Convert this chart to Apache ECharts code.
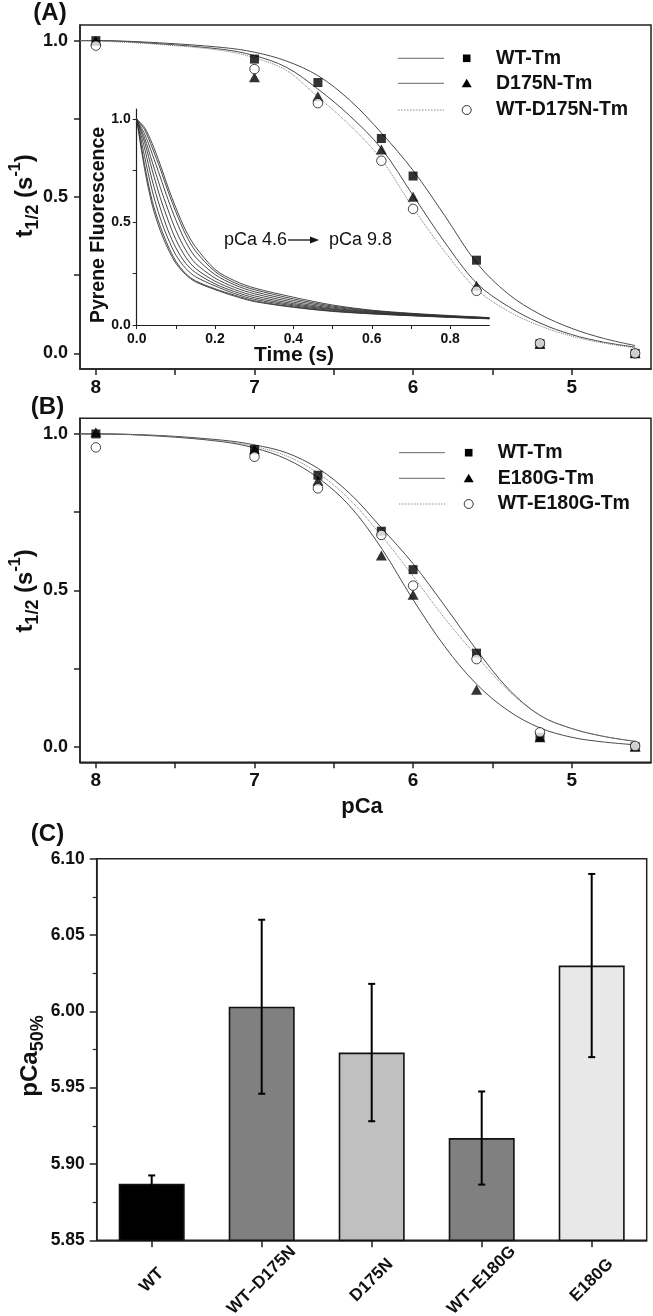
<!DOCTYPE html>
<html>
<head>
<meta charset="utf-8">
<script src="https://cdn.jsdelivr.net/npm/echarts@6/dist/echarts.min.js"></script>
<style>
html,body{margin:0;padding:0;background:#fff;}
#chart{width:653px;height:1316px;}
</style>
</head>
<body>
<div id="chart"></div>
<script>
// ---------- DATA ----------
// Panels A/B: measured points
const pCa = [8, 7, 6.6, 6.2, 6.0, 5.6, 5.2, 4.6];
const wtA = [1.0, 0.941, 0.866, 0.687, 0.567, 0.298, 0.031, 0.0];
const d175nA = [1.0, 0.883, 0.822, 0.652, 0.501, 0.216, 0.03, 0.0];
const wtd175nA = [0.984, 0.909, 0.80, 0.616, 0.462, 0.20, 0.032, 0.0];
const wtB = [1.0, 0.95, 0.868, 0.689, 0.566, 0.299, 0.03, 0.0];
const e180gB = [1.005, 0.951, 0.85, 0.611, 0.486, 0.182, 0.03, 0.0];
const wte180gB = [0.957, 0.927, 0.826, 0.677, 0.515, 0.28, 0.046, 0.002];

// Fitted curves
const fitPCa = [8.1, 8, 7.6, 7.2, 7, 6.8, 6.6, 6.4, 6.2, 6.0, 5.8, 5.6, 5.4, 5.2, 5.0, 4.8, 4.6];
const fitWtA = [1.0, 1.0, 0.993, 0.978, 0.963, 0.935, 0.888, 0.81, 0.705, 0.585, 0.44, 0.29, 0.19, 0.125, 0.08, 0.048, 0.025];
const fitD175nA = [1.0, 1.0, 0.99, 0.972, 0.952, 0.915, 0.845, 0.76, 0.655, 0.505, 0.355, 0.225, 0.15, 0.097, 0.06, 0.036, 0.02];
const fitWtD175nA = [1.0, 0.999, 0.988, 0.968, 0.945, 0.905, 0.82, 0.73, 0.62, 0.465, 0.325, 0.205, 0.135, 0.088, 0.055, 0.033, 0.018];
const fitWtB = [1.0, 1.0, 0.995, 0.98, 0.965, 0.94, 0.89, 0.81, 0.70, 0.585, 0.45, 0.31, 0.185, 0.1, 0.058, 0.033, 0.017];
const fitE180gB = [1.0, 1.0, 0.993, 0.975, 0.955, 0.92, 0.86, 0.77, 0.635, 0.47, 0.32, 0.2, 0.115, 0.06, 0.03, 0.015, 0.006];
const fitWtE180gB = [1.0, 1.0, 0.994, 0.977, 0.96, 0.93, 0.875, 0.79, 0.675, 0.545, 0.41, 0.29, 0.18, 0.1, 0.058, 0.033, 0.017];

// Inset: pyrene fluorescence transients (pCa 4.6 -> 9.8)
const insetT = [0, 0.02, 0.04, 0.06, 0.08, 0.1, 0.125, 0.15, 0.2, 0.25, 0.3, 0.4, 0.5, 0.6, 0.7, 0.8, 0.9];
const tr1 = [1, 0.76, 0.58, 0.46, 0.37, 0.30, 0.245, 0.21, 0.172, 0.14, 0.114, 0.086, 0.066, 0.054, 0.045, 0.037, 0.03];
const tr2 = [1, 0.78, 0.60, 0.48, 0.385, 0.31, 0.25, 0.215, 0.176, 0.145, 0.118, 0.088, 0.068, 0.055, 0.046, 0.038, 0.031];
const tr3 = [1, 0.82, 0.65, 0.52, 0.42, 0.34, 0.275, 0.235, 0.19, 0.153, 0.125, 0.093, 0.071, 0.057, 0.047, 0.039, 0.031];
const tr4 = [1, 0.86, 0.70, 0.57, 0.46, 0.375, 0.30, 0.255, 0.2, 0.162, 0.133, 0.098, 0.075, 0.059, 0.049, 0.04, 0.032];
const tr5 = [1, 0.89, 0.75, 0.62, 0.51, 0.415, 0.33, 0.275, 0.213, 0.172, 0.142, 0.104, 0.078, 0.062, 0.05, 0.041, 0.033];
const tr6 = [1, 0.91, 0.79, 0.67, 0.56, 0.46, 0.365, 0.30, 0.228, 0.183, 0.152, 0.111, 0.082, 0.064, 0.052, 0.042, 0.034];
const tr7 = [1, 0.93, 0.83, 0.72, 0.61, 0.51, 0.405, 0.33, 0.245, 0.195, 0.162, 0.119, 0.087, 0.067, 0.054, 0.043, 0.035];
const tr8 = [1, 0.95, 0.86, 0.76, 0.65, 0.55, 0.44, 0.36, 0.26, 0.205, 0.172, 0.127, 0.092, 0.07, 0.055, 0.044, 0.035];
const tr9 = [1, 0.96, 0.88, 0.78, 0.67, 0.57, 0.46, 0.38, 0.27, 0.215, 0.18, 0.135, 0.097, 0.072, 0.057, 0.046, 0.036];
const transients = [tr1, tr2, tr3, tr4, tr5, tr6, tr7, tr8, tr9];

// Panel C
const cats = ['WT', 'WT\u2013D175N', 'D175N', 'WT\u2013E180G', 'E180G'];
const means = [5.887, 6.003, 5.973, 5.917, 6.030];
const errs = [0.0055, 0.057, 0.045, 0.0305, 0.06];
const barColors = ['#000000', '#808080', '#c0c0c0', '#808080', '#e8e8e8'];

// Tick values
const pCaTicks = [8, 7.5, 7, 6.5, 6, 5.5, 5];
const pCaLabels = [8, 7, 6, 5];
const tTicks = [0, 0.25, 0.5, 0.75, 1];
const tLabels = [0, 0.5, 1];
const insetXTicks = [0, 0.1, 0.2, 0.3, 0.4, 0.5, 0.6, 0.7, 0.8];
const insetXLabels = [0, 0.2, 0.4, 0.6, 0.8];

// ---------- STYLE ----------
const FONT = 'Liberation Sans, Arial, Helvetica, sans-serif';
const AX = '#222';
const TXT = '#111';

function pairs(xs, ys) { return xs.map((x, i) => [x, ys[i]]); }

function pcaXAxis(grid) {
  return {
    gridIndex: grid, type: 'value', min: 4.5, max: 8.1, inverse: true,
    axisLine: { show: true, onZero: false, lineStyle: { color: AX, width: 1.5 } },
    axisTick: { show: true, inside: false, length: 6, customValues: pCaTicks, lineStyle: { color: AX, width: 1.5 } },
    axisLabel: { customValues: pCaLabels, fontSize: 19, fontWeight: 'bold', fontFamily: FONT, color: TXT, margin: 9 },
    splitLine: { show: false }
  };
}
function tYAxis(grid) {
  return {
    gridIndex: grid, type: 'value', min: -0.05, max: 1.05,
    axisLine: { show: true, onZero: false, lineStyle: { color: AX, width: 1.5 } },
    axisTick: { show: true, inside: false, length: 6, customValues: tTicks, lineStyle: { color: AX, width: 1.5 } },
    axisLabel: { customValues: tLabels, formatter: v => v.toFixed(1), fontSize: 18, fontWeight: 'bold', fontFamily: FONT, color: TXT, margin: 12 },
    splitLine: { show: false }
  };
}

function curve(name, xi, xs, ys, dotted) {
  return {
    name, type: 'line', xAxisIndex: xi, yAxisIndex: xi, data: pairs(xs, ys), smooth: 0.35,
    showSymbol: false, symbol: 'none', silent: true, z: 2,
    lineStyle: dotted ? { color: '#7a7a7a', width: 1, type: 'dotted' } : { color: '#4a4a4a', width: 1 }
  };
}
function pts(name, xi, ys, kind) {
  const base = { name, type: 'scatter', xAxisIndex: xi, yAxisIndex: xi, data: pairs(pCa, ys), silent: true };
  if (kind === 'sq') return Object.assign(base, { symbol: 'rect', symbolSize: 9, itemStyle: { color: '#000' }, z: 3 });
  if (kind === 'tri') return Object.assign(base, { symbol: 'triangle', symbolSize: [11, 10], itemStyle: { color: '#000' }, z: 4 });
  return Object.assign(base, { symbol: 'circle', symbolSize: 9.5, itemStyle: { color: '#fff', borderColor: '#000', borderWidth: 0.9 }, z: 5 });
}

const series = [];
// inset transients
transients.forEach((tr, k) => {
  series.push({
    type: 'line', xAxisIndex: 1, yAxisIndex: 1, data: pairs(insetT, tr), smooth: 0.3,
    showSymbol: false, symbol: 'none', silent: true, z: 1,
    lineStyle: { color: '#333', width: 0.9 }
  });
});
// Panel A
series.push(curve('fit WT-Tm A', 0, fitPCa, fitWtA, false));
series.push(curve('fit D175N-Tm A', 0, fitPCa, fitD175nA, false));
series.push(curve('fit WT-D175N-Tm A', 0, fitPCa, fitWtD175nA, true));
series.push(pts('WT-Tm', 0, wtA, 'sq'));
series.push(pts('D175N-Tm', 0, d175nA, 'tri'));
series.push(pts('WT-D175N-Tm', 0, wtd175nA, 'circ'));
// Panel B
series.push(curve('fit WT-Tm B', 2, fitPCa, fitWtB, false));
series.push(curve('fit E180G-Tm B', 2, fitPCa, fitE180gB, false));
series.push(curve('fit WT-E180G-Tm B', 2, fitPCa, fitWtE180gB, true));
series.push(pts('WT-Tm B', 2, wtB, 'sq'));
series.push(pts('E180G-Tm', 2, e180gB, 'tri'));
series.push(pts('WT-E180G-Tm', 2, wte180gB, 'circ'));
// Panel C bars
series.push({
  type: 'bar', xAxisIndex: 3, yAxisIndex: 3, barWidth: 66, silent: true, z: 2,
  data: means.map((m, i) => ({ value: m, itemStyle: { color: barColors[i], borderColor: '#111', borderWidth: 1.6 } }))
});
series.push({
  type: 'custom', xAxisIndex: 3, yAxisIndex: 3, silent: true, z: 5, clip: false,
  encode: { x: 0, y: [1, 2] },
  data: means.map((m, i) => [i, m - errs[i], m + errs[i]]),
  renderItem: function (params, api) {
    const x = api.value(0);
    const lo = api.coord([x, api.value(1)]);
    const hi = api.coord([x, api.value(2)]);
    const hw = 3.5;
    const st = { stroke: '#000', lineWidth: 2 };
    return {
      type: 'group', children: [
        { type: 'line', shape: { x1: lo[0], y1: lo[1], x2: hi[0], y2: hi[1] }, style: st },
        { type: 'line', shape: { x1: hi[0] - hw, y1: hi[1], x2: hi[0] + hw, y2: hi[1] }, style: st },
        { type: 'line', shape: { x1: lo[0] - hw, y1: lo[1], x2: lo[0] + hw, y2: lo[1] }, style: st }
      ]
    };
  }
});

// ---------- GRAPHIC (titles, legends, annotations) ----------
const g = [];
function txt(x, y, text, size, opts) {
  opts = opts || {};
  g.push({
    type: 'text', x, y, rotation: opts.rot || 0, z: 50,
    style: Object.assign({ text, fill: TXT, font: (opts.weight || 'bold') + ' ' + size + 'px ' + FONT,
      align: opts.align || 'center', verticalAlign: 'middle' }, opts.style || {})
  });
}
txt(50, 13, '(A)', 24);
txt(47.5, 407, '(B)', 24);
txt(47.5, 834, '(C)', 24);
txt(362, 807, 'pCa', 22);
txt(294, 355, 'Time (s)', 21);
txt(99, 225, 'Pyrene Fluorescence', 19.5, { rot: Math.PI / 2 });
txt(224, 240, 'pCa 4.6', 18, { weight: 'normal', align: 'left' });
txt(329, 240, 'pCa 9.8', 18, { weight: 'normal', align: 'left' });
g.push({ type: 'line', z: 50, shape: { x1: 288, y1: 240, x2: 312, y2: 240 }, style: { stroke: '#111', lineWidth: 1.3 } });
g.push({ type: 'polygon', z: 50, shape: { points: [[319, 240], [310, 236.5], [310, 243.5]] }, style: { fill: '#111' } });

function richTitle(x, y, parts) {
  g.push({
    type: 'text', x, y, rotation: Math.PI / 2, z: 50,
    style: {
      text: parts, align: 'center', verticalAlign: 'middle', fill: TXT,
      rich: {
        m: { font: 'bold 24px ' + FONT, fill: TXT, lineHeight: 34 },
        sb: { font: 'bold 18px ' + FONT, fill: TXT, lineHeight: 20, verticalAlign: 'bottom' },
        sp: { font: 'bold 16px ' + FONT, fill: TXT, lineHeight: 18, verticalAlign: 'top' }
      }
    }
  });
}
richTitle(25, 196, '{m|t}{sb|1/2}{m| (s}{sp|-1}{m|)}');
richTitle(25, 591, '{m|t}{sb|1/2}{m| (s}{sp|-1}{m|)}');
richTitle(30, 1056, '{m|pCa}{sb|50%}');

function legend(x1, x2, mx, tx, ys, names) {
  const kinds = ['sq', 'tri', 'circ'];
  ys.forEach((y, i) => {
    g.push({ type: 'line', z: 50, shape: { x1, y1: y, x2, y2: y },
      style: i === 2 ? { stroke: '#8a8a8a', lineWidth: 1, lineDash: [1.5, 1.5] } : { stroke: '#666', lineWidth: 1 } });
    if (kinds[i] === 'sq') g.push({ type: 'rect', z: 50, shape: { x: mx - 3.8, y: y - 3.8, width: 7.6, height: 7.6 }, style: { fill: '#000' } });
    else if (kinds[i] === 'tri') g.push({ type: 'polygon', z: 50, shape: { points: [[mx, y - 4.5], [mx - 5, y + 4], [mx + 5, y + 4]] }, style: { fill: '#000' } });
    else g.push({ type: 'circle', z: 50, shape: { cx: mx, cy: y, r: 4.5 }, style: { fill: '#fff', stroke: '#000', lineWidth: 0.8 } });
    txt(tx, y, names[i], 19.5, { align: 'left' });
  });
}
legend(398, 444, 466.7, 496, [58.3, 83.3, 110], ['WT-Tm', 'D175N-Tm', 'WT-D175N-Tm']);
legend(399, 445, 468.7, 497.7, [452.7, 478.3, 504], ['WT-Tm', 'E180G-Tm', 'WT-E180G-Tm']);

// ---------- OPTION ----------
const option = {
  backgroundColor: '#ffffff',
  animation: false,
  textStyle: { fontFamily: FONT },
  grid: [
    { left: 80, top: 25, width: 571, height: 344, show: true, borderColor: AX, borderWidth: 1.5, backgroundColor: 'transparent', outerBoundsMode: 'none' },
    { left: 136.7, top: 109, width: 352.6, height: 216, show: false, outerBoundsMode: 'none' },
    { left: 80, top: 418.3, width: 571, height: 344, show: true, borderColor: AX, borderWidth: 1.5, backgroundColor: 'transparent', outerBoundsMode: 'none' },
    { left: 96.7, top: 858.7, width: 550, height: 381.6, show: true, borderColor: AX, borderWidth: 1.5, backgroundColor: 'transparent', outerBoundsMode: 'none' }
  ],
  xAxis: [
    pcaXAxis(0),
    {
      gridIndex: 1, type: 'value', min: 0, max: 0.9,
      axisLine: { show: true, onZero: false, lineStyle: { color: AX, width: 1.2 } },
      axisTick: { show: true, inside: false, length: 4, customValues: insetXTicks, lineStyle: { color: AX, width: 1 } },
      axisLabel: { customValues: insetXLabels, formatter: v => v.toFixed(1), fontSize: 14, fontWeight: 'bold', fontFamily: FONT, color: TXT, margin: 7 },
      splitLine: { show: false }
    },
    pcaXAxis(2),
    {
      gridIndex: 3, type: 'category', data: cats, boundaryGap: true,
      axisLine: { show: true, onZero: false, lineStyle: { color: AX, width: 1.5 } },
      axisTick: { show: true, alignWithLabel: true, inside: false, length: 7, lineStyle: { color: AX, width: 1.5 } },
      axisLabel: { rotate: 45, align: 'center', verticalAlign: 'middle', margin: 40, interval: 0, fontSize: 17, fontWeight: 'bold', fontFamily: FONT, color: TXT },
      splitLine: { show: false }
    }
  ],
  yAxis: [
    tYAxis(0),
    {
      gridIndex: 1, type: 'value', min: 0, max: 1.05,
      axisLine: { show: true, onZero: false, lineStyle: { color: AX, width: 1.2 } },
      axisTick: { show: true, inside: false, length: 4, customValues: tTicks, lineStyle: { color: AX, width: 1 } },
      axisLabel: { customValues: tLabels, formatter: v => v.toFixed(1), fontSize: 14, fontWeight: 'bold', fontFamily: FONT, color: TXT, margin: 6 },
      splitLine: { show: false }
    },
    tYAxis(2),
    {
      gridIndex: 3, type: 'value', min: 5.85, max: 6.10, interval: 0.05,
      axisLine: { show: true, onZero: false, lineStyle: { color: AX, width: 1.5 } },
      axisTick: { show: true, inside: false, length: 7, lineStyle: { color: AX, width: 1.5 } },
      minorTick: { show: true, splitNumber: 2, length: 4, lineStyle: { color: AX, width: 1.2 } },
      axisLabel: { formatter: v => v.toFixed(2), fontSize: 17.5, fontWeight: 'bold', fontFamily: FONT, color: TXT, margin: 12 },
      splitLine: { show: false }
    }
  ],
  series: series,
  graphic: g
};

const chart = echarts.init(document.getElementById('chart'), null, { renderer: 'canvas' });
chart.setOption(option);
</script>
</body>
</html>
